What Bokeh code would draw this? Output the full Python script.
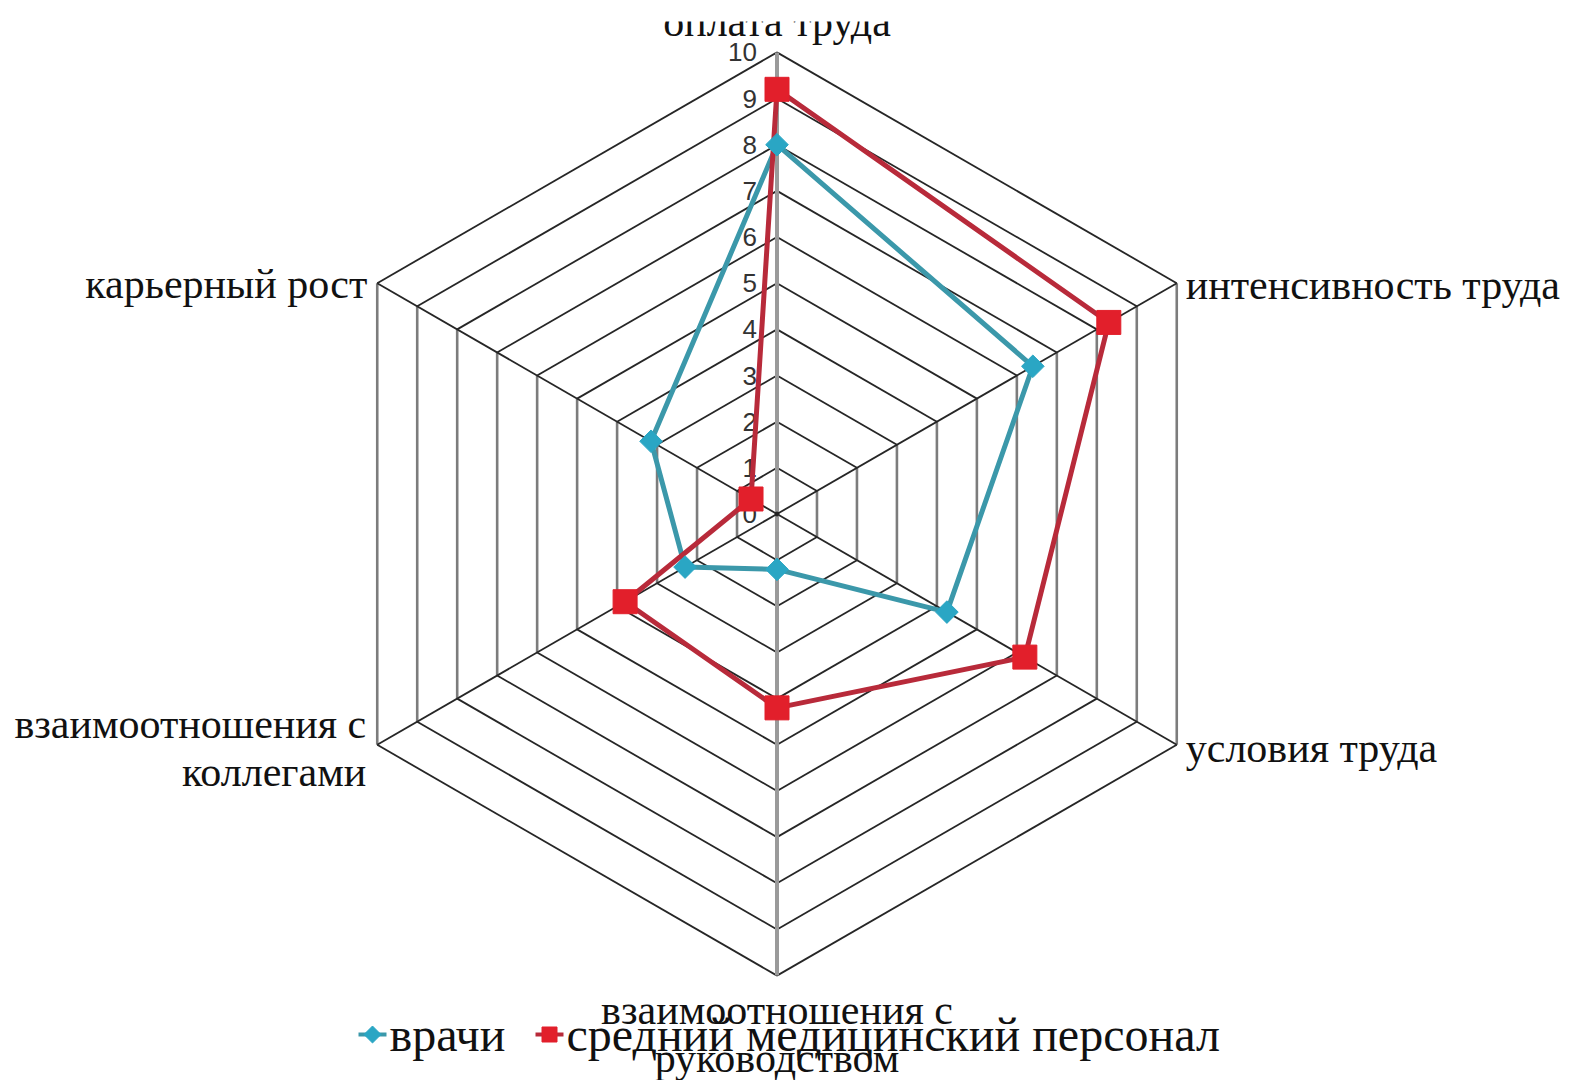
import math
from bokeh.plotting import figure
from bokeh.models import Range1d
from bokeh.core.properties import value
from bokeh.embed import file_html
from bokeh.resources import INLINE

# Factors (clockwise from the top) and scores of the two staff groups
categories = [
    "оплата труда",
    "интенсивность труда",
    "условия труда",
    "взаимоотношения с\nруководством",
    "взаимоотношения с\nколлегами",
    "карьерный рост",
]
doctors = [8.0, 6.4, 4.25, 1.2, 2.3, 3.15]
nurses = [9.2, 8.3, 6.2, 4.2, 3.8, 0.65]
series_names = ["врачи", "средний медицинский персонал"]
tick_labels = [str(i) for i in range(11)]
r_max = 10

W, H = 1585, 1080
CX, CY = 776.5, 513.5          # centre of the web, px
PX_PER_UNIT = 46.16            # px per score unit

x_range = Range1d(-CX / PX_PER_UNIT, (W - CX) / PX_PER_UNIT)
y_range = Range1d(-(H - CY) / PX_PER_UNIT, CY / PX_PER_UNIT)

p = figure(width=W, height=H, x_range=x_range, y_range=y_range,
           output_backend="svg", toolbar_location=None,
           x_axis_type=None, y_axis_type=None, min_border=0,
           min_border_left=0, min_border_right=0, min_border_top=0, min_border_bottom=0)
p.grid.visible = False
p.outline_line_color = None
p.background_fill_color = "white"
p.border_fill_color = "white"

n = len(categories)
angles = [math.pi / 2 - 2 * math.pi * i / n for i in range(n)]


def pol(r, a):
    return r * math.cos(a), r * math.sin(a)


def px2x(px):
    return (px - CX) / PX_PER_UNIT


def px2y(py):
    return (CY - py) / PX_PER_UNIT


# Rings: slanted edges dark, upright edges softer grey
diag_xs, diag_ys, vert_xs, vert_ys = [], [], [], []
for r in range(1, r_max + 1):
    for i in range(n):
        x0, y0 = pol(r, angles[i])
        x1, y1 = pol(r, angles[(i + 1) % n])
        if abs(x1 - x0) < 1e-9:
            vert_xs.append([x0, x1]); vert_ys.append([y0, y1])
        else:
            diag_xs.append([x0, x1]); diag_ys.append([y0, y1])
p.multi_line(diag_xs, diag_ys, line_color="#262626", line_width=1.8)
p.multi_line(vert_xs, vert_ys, line_color="#7c7c7c", line_width=2.6)

# Spokes
for i in range(n):
    x1, y1 = pol(r_max, angles[i])
    upright = abs(x1) < 1e-9
    p.line([0, x1], [0, y1],
           line_color="#9a9a9a" if upright else "#262626",
           line_width=4 if upright else 1.8)
p.scatter([0], [0], size=4, color="#222222")

# Value labels along the top spoke
p.text(x=[0] * len(tick_labels), y=list(range(len(tick_labels))), text=tick_labels,
       x_offset=-20, text_align="right", text_baseline="middle",
       text_font=value("Liberation Sans"), text_font_size="26px", text_color="#333333")

# Series
teal_line, teal_mark = "#3b98aa", "#2aa6c4"
red_line, red_mark = "#b82a3a", "#e21f2b"


def closed_xy(vals):
    pts = [pol(v, a) for v, a in zip(vals, angles)]
    pts.append(pts[0])
    return [q[0] for q in pts], [q[1] for q in pts]


dx, dy = closed_xy(doctors)
nx, ny = closed_xy(nurses)
p.line(dx, dy, line_color=teal_line, line_width=5)
p.line(nx, ny, line_color=red_line, line_width=5)
p.scatter(dx[:-1], dy[:-1], marker="square", angle=math.pi / 4, size=16,
          fill_color=teal_mark, line_color=teal_mark)
p.scatter(nx[:-1], ny[:-1], marker="square", size=24,
          fill_color=red_mark, line_color=red_mark)

# Factor names around the web
FONT = value("Liberation Serif")
label_place = [
    # (x_offset, first-line y_offset, align)
    (0, -30, "center"),
    (9, 2, "left"),
    (9, 3, "left"),
    (0, 34, "center"),
    (-11, -21, "right"),
    (-10, 1, "right"),
]
LINE_STEP = 48
for i, cat in enumerate(categories):
    vx, vy = pol(r_max, angles[i])
    xo, yo, al = label_place[i]
    for k, line in enumerate(cat.split("\n")):
        p.text(x=[vx], y=[vy], text=[line], x_offset=xo, y_offset=yo + k * LINE_STEP,
               text_align=al, text_baseline="alphabetic",
               text_font=FONT, text_font_size="42px", text_color="#111111")

# Top strip is blank, cutting the upper part of the first label
p.quad(left=[px2x(0)], right=[px2x(W)], top=[px2y(0)], bottom=[px2y(21)],
       fill_color="white", line_color=None)

# Legend
leg_y = px2y(1034)
for name, lc, mc, ms, ang, cx_px, tx_px in [
    (series_names[0], teal_line, teal_mark, 12, math.pi / 4, 372, 389),
    (series_names[1], red_line, red_mark, 15, 0, 549, 566),
]:
    p.line([px2x(cx_px - 14), px2x(cx_px + 14)], [leg_y, leg_y], line_color=lc, line_width=4)
    p.scatter([px2x(cx_px)], [leg_y], marker="square", size=ms, angle=ang,
              fill_color=mc, line_color=mc)
    p.text(x=[px2x(tx_px)], y=[leg_y], text=[name], y_offset=0,
           text_align="left", text_baseline="alphabetic",
           text_font=FONT, text_font_size="48px", text_color="#111111")

open("out.html", "w").write(file_html(p, INLINE))
